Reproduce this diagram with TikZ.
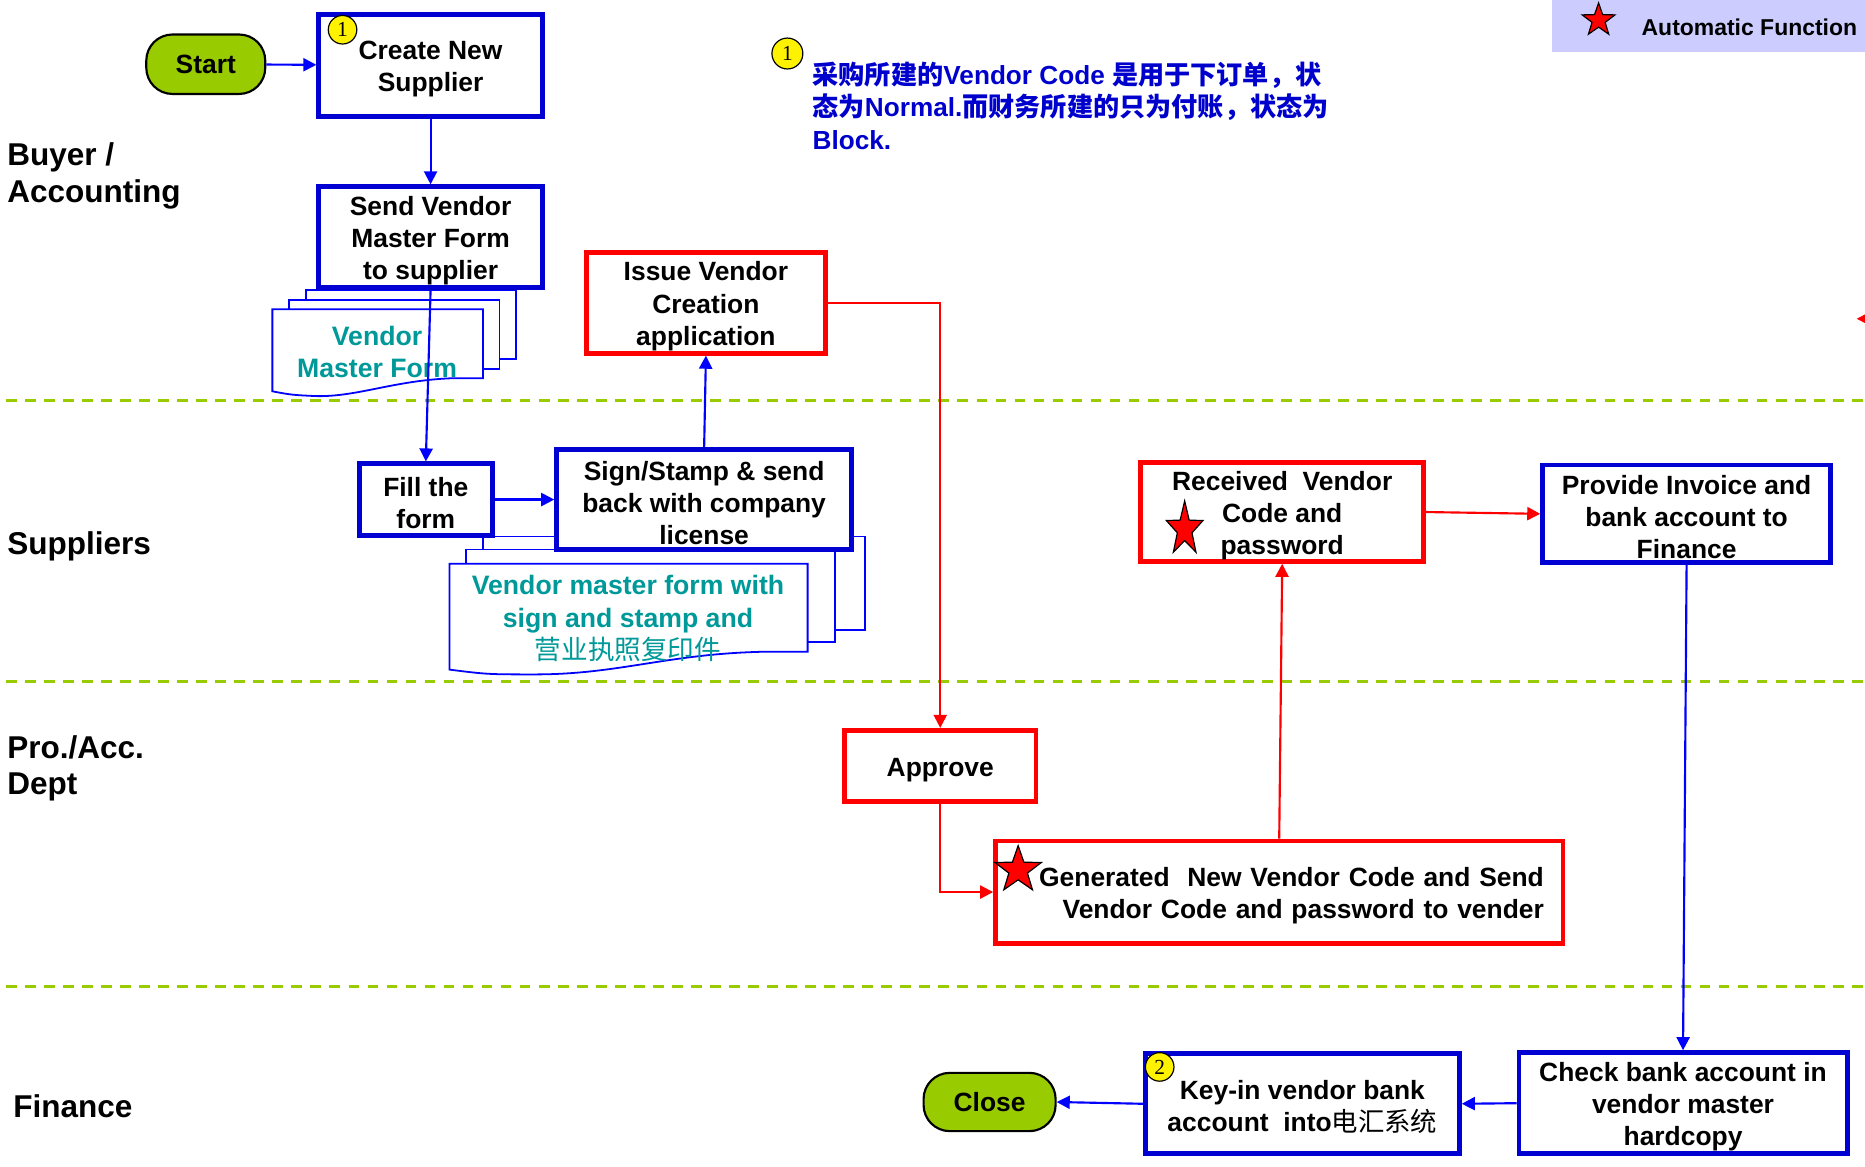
\documentclass[tikz,border=0pt]{standalone}
\usepackage{fontspec}
\setmainfont{Liberation Sans}
\newfontfamily\cjk{Noto Sans CJK SC}
\newfontfamily\numfont{Liberation Serif}
\usetikzlibrary{arrows.meta,shapes.geometric}
\definecolor{boxblue}{RGB}{0,0,210}
\definecolor{lineblue}{RGB}{0,0,255}
\definecolor{tealtxt}{RGB}{0,153,153}
\definecolor{noteblue}{RGB}{0,0,204}
\definecolor{pillgreen}{RGB}{153,204,0}
\definecolor{lanegreen}{RGB}{153,204,0}
\definecolor{legendbg}{RGB}{204,204,255}
\newcommand{\fs}{\rule{0pt}{22pt}}
\begin{document}
\begin{tikzpicture}[x=1pt,y=-1pt,
  boxfont/.style={font=\fontsize{22.2}{27}\selectfont\bfseries},
  bluebox/.style={draw=boxblue, line width=4pt, fill=white, boxfont, align=center, inner sep=0pt},
  redbox/.style={draw=red, line width=4pt, fill=white, boxfont, align=center, inner sep=0pt},
  pill/.style={draw=black, line width=1.8pt, fill=pillgreen, rounded corners=22pt, boxfont, inner sep=0pt},
  numcirc/.style={circle, draw=black, line width=1pt, fill=yellow, inner sep=0pt, minimum size=24pt, font=\numfont\fontsize{18}{18}\selectfont},
  lane/.style={draw=lanegreen, line width=2.5pt, dash pattern=on 9pt off 7pt},
  lanelabel/.style={font=\fontsize{26.5}{31}\selectfont\bfseries, align=left, anchor=west, inner sep=0pt},
  bconn/.style={draw=lineblue, line width=1.8pt, -{Triangle[length=11pt,width=11pt]}},
  rconn/.style={draw=red, line width=1.8pt, -{Triangle[length=11pt,width=11pt]}},
  docline/.style={draw=lineblue, line width=1.5pt, fill=white},
  doctext/.style={text=tealtxt, font=\fontsize{22.4}{27}\selectfont\bfseries, align=center, inner sep=0pt},
  redstar/.style={star, star points=5, star point ratio=2.5, draw=black, line width=1pt, fill=red, inner sep=0pt},
]
\useasboundingbox (0,0) rectangle (1568,981);
\clip (0,0) rectangle (1568,981);

% legend
\fill[legendbg] (1305,0) rectangle (1568,44);
\node[redstar, minimum size=29pt] (legstar) at (1344,17) {};
\node[anchor=west, inner sep=0pt, font=\fontsize{19.3}{23}\selectfont\bfseries] (legtext) at (1380,23) {Automatic Function};

% lanes
\draw[lane] (5,337) -- (1568,337);
\draw[lane] (5,573) -- (1568,573);
\draw[lane] (5,829) -- (1568,829);

\node[lanelabel] (lbuyer) at (6,148) {Buyer /\\Accounting};
\node[lanelabel] (lsupp) at (6,459) {Suppliers};
\node[lanelabel] (lpro) at (6,646) {Pro./Acc.\\Dept};
\node[lanelabel] (lfin) at (11,930) {Finance};

% document stack 1
\draw[docline] (257,244) rectangle (434,302);
\draw[docline] (243,252) rectangle (420,310);
\draw[docline] (229,260) -- (406,260) -- (406,318) -- (380,318)
   .. controls (330,320) and (300,334) .. (265,333)
   .. controls (245,332) .. (229,329) -- cycle;
\node[doctext] (doc1) at (317,296) {Vendor\\Master Form};

% document stack 2
\draw[docline] (406,451) rectangle (727,530);
\draw[docline] (392,462) rectangle (702,540);
\draw[docline] (378,474) -- (679,474) -- (679,548) -- (640,548)
   .. controls (560,550) and (520,567) .. (450,567)
   .. controls (410,567) .. (378,563) -- cycle;
\node[doctext] (doc2) at (528,520) {Vendor master form with\\sign and stamp and\\{\cjk\mdseries 营业执照复印件}};

% boxes
\node[pill, minimum width=100pt, minimum height=50pt] (start) at (173,54) {Start};
\node[bluebox, minimum width=188pt, minimum height=86pt] (create) at (362,55) {\fs Create New\\Supplier};
\node[numcirc] (c1) at (288,25) {1};
\node[bluebox, minimum width=188pt, minimum height=85pt] (send) at (362,199.5) {\fs Send Vendor\\Master Form\\to supplier};
\node[redbox, minimum width=201pt, minimum height=85pt] (issue) at (593.5,254.5) {\fs Issue Vendor\\Creation\\application};
\node[bluebox, minimum width=112pt, minimum height=60pt] (fill) at (358,420) {\fs Fill the\\form};
\node[bluebox, minimum width=248pt, minimum height=84pt] (sign) at (592,420) {\fs Sign/Stamp \& send\\back with company\\license};
\node[redbox, minimum width=161pt, minimum height=60pt] (approve) at (790.5,644) {\fs Approve};
\node[redbox, minimum width=477pt, minimum height=86pt, text width=445pt, align=right] (gen) at (1075.5,750) {\fs Generated\ \ New Vendor Code and Send\\Vendor Code and password to vender};
\node[redstar, minimum size=41pt] (genstar) at (856,731.5) {};
\node[redbox, minimum width=238pt, minimum height=83pt] (recv) at (1078,430.5) {\fs Received\ \ Vendor\\Code and\\password};
\begin{scope}[shift={(996,445)}, xscale=0.68]
\node[redstar, minimum size=47.6pt, transform shape] (recvstar) at (0,0) {};
\end{scope}
\node[bluebox, minimum width=242pt, minimum height=82pt] (provide) at (1418,432) {\fs Provide Invoice and\\bank account to\\Finance};
\node[bluebox, minimum width=276pt, minimum height=85pt] (check) at (1415,927.5) {\fs Check bank account in\\vendor master\\hardcopy};
\node[bluebox, minimum width=264pt, minimum height=84pt] (keyin) at (1095,928) {\fs Key-in vendor bank\\account\ \ into{\cjk\mdseries 电汇系统}};
\node[numcirc] (c2) at (975,897) {2};
\node[pill, minimum width=111pt, minimum height=49pt] (close) at (832,926.5) {Close};

% note
\node[numcirc, minimum size=26pt] (c1n) at (662,45) {1};
\node[anchor=west, align=left, inner sep=0pt, text=noteblue, font=\fontsize{22}{27}\selectfont\bfseries] (note) at (683,89)
  {{\cjk 采购所建的}Vendor Code {\cjk 是用于下订单，状}\\{\cjk 态为}Normal.{\cjk 而财务所建的只为付账，状态为}\\Block.};

% connectors
\draw[bconn] (start) -- (create);
\draw[bconn] (create.south) -- (send.north);
\draw[bconn] (send.south) -- (fill.north);
\draw[bconn] (fill.east) -- (sign.west);
\draw[bconn] (sign.north) -- (issue.south);
\draw[rconn] (issue.east) -| (approve.north);
\draw[rconn] (approve.south) |- (gen.west);
\draw[rconn] (gen.north) -- (recv.south);
\draw[rconn] (recv.east) -- (provide.west);
\draw[bconn] (provide.south) -- (check.north);
\draw[bconn] (check.west) -- (keyin.east);
\draw[bconn] (keyin.west) -- (close.east);
\coordinate (offA) at (1595,268);
\coordinate (offB) at (1561,268);
\draw[rconn] (offA) -- (offB);
\end{tikzpicture}
\end{document}
